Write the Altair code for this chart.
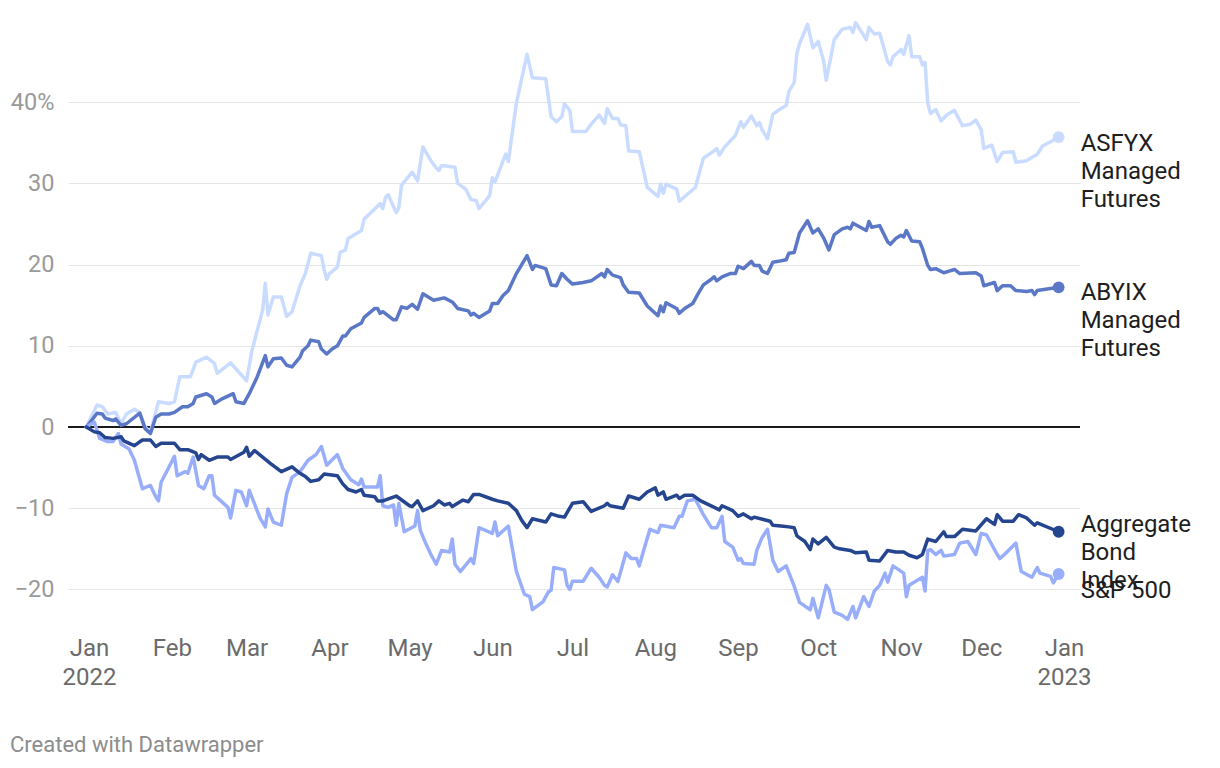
import altair as alt
import pandas as pd

START = pd.Timestamp("2022-01-01")

# (day offset from 1 Jan 2022, cumulative return %)
asfyx = [(-1,0),(3,2.7),(5,2.5),(7,1.6),(10,1.8),(12,0.4),(14,1.6),(17,2.2),(19,1.8),(21,0),(23,-0.6),
         (26,3.1),(30,2.9),(32,3.1),(34,6.2),(38,6.2),(40,8.0),(44,8.6),(47,7.8),(48,6.6),(53,7.9),(59,5.7),
         (61,9.4),(65,14.4),(66,17.7),(67,13.8),(69,16.0),(72,16.0),(74,13.6),(76,14.2),(79,17.4),(81,18.9),
         (83,21.4),(87,21.1),(88,19.4),(89,18.2),(90,18.9),(93,19.7),(94,21.5),(96,21.8),(97,23.2),(102,24.2),
         (103,25.6),(109,27.5),(110,26.9),(111,28.3),(112,28.6),(115,26.4),(116,27.0),(117,29.8),(121,31.4),
         (123,30.3),(125,34.5),(128,32.8),(130,31.9),(131,31.6),(132,32.2),(137,32.0),(138,30.0),(141,29.3),
         (143,28.0),(145,27.9),(146,26.9),(150,28.5),(151,30.7),(152,30.2),(154,31.9),(156,33.6),(157,32.7),
         (160,39.9),(164,45.9),(166,43.0),(171,42.9),(173,38.2),(175,37.6),(177,38.2),(178,39.8),(180,39.0),
         (181,36.4),(186,36.4),(188,37.3),(191,38.4),(193,37.4),(194,39.2),(196,38.0),(198,38.0),(199,37.2),
         (201,37.1),(202,34.0),(206,33.9),(209,29.5),(213,28.4),(214,29.9),(215,28.8),(216,29.9),(220,29.3),
         (221,27.8),(227,29.5),(230,33.1),(234,34.0),(235,34.3),(236,33.5),(238,34.5),(242,35.9),(244,37.6),
         (245,36.9),(248,38.3),(250,37.1),(251,37.5),(252,36.6),(254,35.5),(256,38.5),(258,39.0),(261,39.6),
         (262,41.3),(264,42.4),(265,46.0),(266,47.2),(269,49.6),(271,46.7),(273,47.5),(275,45.1),(276,42.7),
         (279,47.7),(282,49.0),(285,49.2),(286,48.6),(287,49.8),(291,47.7),(292,49.2),(294,48.4),(296,48.5),
         (299,45.0),(300,44.6),(301,45.6),(304,46.5),(305,45.9),(307,48.2),(308,45.6),(311,45.6),(312,44.6),
         (313,44.9),(314,39.9),(315,38.6),(317,39.1),(319,37.7),(321,38.4),(324,39.0),(327,37.1),(330,37.3),
         (332,37.8),(334,36.6),(335,34.3),(338,34.7),(340,32.7),(342,33.8),(346,33.9),(347,32.6),(351,32.8),
         (352,33.0),(355,33.6),(357,34.6),(362,35.5),(363,35.7)]

abyix = [(-1,0),(0,0.4),(3,1.7),(5,1.6),(6,1.1),(9,0.8),(10,1.0),(12,0.2),(14,0.4),(19,1.7),(21,-0.2),
         (23,-0.8),(25,1.2),(27,1.6),(30,1.6),(32,1.8),(35,2.5),(37,2.5),(39,2.9),(40,3.7),(44,4.1),(46,3.7),
         (47,2.9),(50,3.5),(54,4.1),(55,3.1),(58,2.9),(60,4.1),(63,6.2),(66,8.8),(67,7.4),(69,8.4),(72,8.5),
         (74,7.6),(76,7.4),(79,8.6),(80,9.4),(82,10.0),(83,10.7),(86,10.5),(87,9.6),(89,9.0),(91,9.6),(93,10.0),
         (95,11.2),(96,11.2),(98,12.1),(102,12.8),(103,13.5),(107,14.6),(108,14.6),(109,14.0),(110,14.2),
         (114,13.2),(115,13.2),(117,14.8),(119,14.6),(121,15.1),(123,14.5),(125,16.4),(129,15.6),(133,15.9),
         (136,15.4),(138,14.6),(142,14.3),(143,13.8),(144,14.0),(146,13.5),(150,14.3),(151,15.2),(153,15.2),
         (155,16.2),(157,16.8),(160,18.9),(164,21.1),(166,19.4),(167,19.9),(171,19.5),(173,17.5),(175,17.4),
         (177,18.9),(179,18.2),(181,17.6),(185,17.8),(188,18.0),(192,18.9),(193,18.5),(194,19.4),(196,18.7),
         (199,18.4),(200,17.5),(202,16.6),(206,16.5),(209,14.9),(213,13.7),(214,14.9),(215,14.2),(216,15.3),
         (220,14.6),(221,14.0),(223,14.6),(226,15.2),(228,16.4),(230,17.5),(233,18.2),(234,18.5),(235,18.0),
         (237,18.5),(240,18.9),(242,18.9),(243,19.8),(245,19.5),(248,20.4),(249,19.9),(251,19.9),(252,19.2),
         (254,18.9),(256,20.3),(258,20.4),(261,20.6),(262,21.4),(264,21.5),(266,23.9),(269,25.4),(271,23.9),
         (273,24.4),(275,23.3),(277,21.8),(279,23.7),(282,24.4),(284,24.6),(285,24.4),(286,25.1),(291,24.2),
         (292,25.3),(293,24.6),(296,24.8),(299,22.8),(300,22.5),(302,23.2),(304,23.6),(305,23.4),(306,24.2),
         (308,22.9),(311,22.8),(312,22.0),(314,19.9),(315,19.4),(317,19.5),(320,19.0),(322,19.2),(324,19.4),
         (326,18.9),(332,19.0),(334,18.6),(335,17.4),(339,17.8),(340,16.8),(342,17.4),(345,17.4),(347,16.8),
         (351,16.7),(353,16.8),(354,16.3),(355,16.8),(363,17.2)]

agg = [(-1,0),(2,-0.6),(4,-0.7),(6,-1.3),(9,-1.4),(12,-1.2),(13,-1.7),(17,-2.3),(20,-1.6),(23,-1.6),
       (25,-2.4),(27,-2.0),(32,-2.0),(34,-2.8),(37,-2.8),(40,-3.2),(41,-4.0),(42,-3.4),(45,-4.1),(48,-3.7),
       (52,-3.7),(53,-4.0),(58,-3.1),(59,-2.5),(60,-3.6),(62,-2.9),(65,-3.7),(68,-4.5),(72,-5.5),(76,-4.9),
       (79,-5.7),(81,-6.1),(83,-6.7),(86,-6.5),(88,-5.8),(93,-6.0),(95,-7.0),(97,-7.7),(100,-8.0),(102,-7.7),
       (103,-8.4),(107,-8.6),(108,-9.1),(110,-9.1),(115,-8.5),(120,-9.7),(121,-9.8),(123,-9.1),(125,-10.3),
       (129,-9.7),(131,-9.1),(133,-9.6),(135,-9.4),(136,-9.8),(140,-9.0),(142,-9.2),(144,-8.3),(146,-8.3),
       (151,-8.9),(153,-9.1),(157,-9.4),(160,-10.3),(162,-11.5),(164,-12.4),(166,-11.3),(171,-11.7),
       (173,-10.7),(176,-11.0),(178,-11.1),(181,-9.4),(185,-9.2),(188,-10.4),(193,-9.7),(194,-9.4),(195,-9.7),
       (200,-10.0),(202,-8.5),(206,-8.9),(209,-8.0),(212,-7.5),(213,-8.4),(215,-8.0),(216,-8.9),(220,-8.4),
       (221,-8.8),(223,-8.4),(226,-8.4),(229,-9.1),(236,-10.2),(237,-9.7),(241,-10.3),(243,-11.0),(245,-10.7),
       (248,-11.3),(249,-11.1),(255,-11.6),(256,-12.1),(259,-12.2),(262,-12.3),(264,-12.4),(265,-13.4),
       (268,-14.1),(270,-15.1),(271,-13.8),(273,-14.4),(276,-13.6),(279,-14.8),(281,-15.0),(285,-15.2),
       (287,-15.5),(291,-15.4),(292,-16.4),(296,-16.5),(299,-15.2),(302,-15.4),(305,-15.4),(307,-15.8),
       (310,-16.1),(312,-15.7),(314,-13.8),(317,-14.1),(320,-12.9),(321,-13.5),(324,-13.5),(327,-12.6),
       (332,-12.8),(336,-11.3),(339,-12.0),(340,-10.8),(342,-11.6),(346,-11.6),(348,-10.8),(351,-11.2),
       (354,-12.1),(355,-11.8),(363,-12.9)]

spx = [(-1,0),(2,0.6),(4,-1.4),(7,-1.8),(9,-1.8),(11,-0.8),(12,-2.1),(15,-2.7),(17,-4.1),(20,-7.6),
       (23,-7.2),(25,-8.6),(26,-9.1),(27,-6.8),(30,-4.9),(32,-3.6),(33,-6.0),(36,-5.5),(37,-5.7),(39,-3.7),
       (41,-7.2),(43,-7.6),(45,-6.0),(46,-6.0),(47,-8.4),(52,-9.9),(53,-11.2),(55,-7.8),(57,-8.0),(59,-9.7),
       (60,-7.8),(64,-11.2),(66,-12.3),(67,-10.1),(69,-11.7),(72,-12.1),(74,-8.2),(76,-6.2),(79,-5.5),
       (82,-4.1),(85,-3.4),(87,-2.4),(89,-4.7),(93,-3.4),(95,-5.1),(98,-6.5),(101,-7.1),(102,-6.4),(103,-7.4),
       (108,-7.4),(109,-6.0),(110,-9.7),(112,-9.9),(114,-9.6),(115,-12.1),(116,-9.4),(118,-12.9),(122,-12.2),
       (123,-10.3),(124,-12.7),(126,-14.3),(128,-15.7),(130,-16.9),(132,-15.2),(135,-15.4),(136,-13.8),
       (137,-16.9),(139,-17.8),(143,-16.2),(144,-16.8),(146,-12.4),(151,-13.1),(152,-11.7),(153,-13.4),
       (157,-12.2),(160,-17.8),(163,-20.6),(165,-20.9),(166,-22.5),(170,-21.5),(172,-20.3),(173,-20.1),
       (174,-17.3),(178,-17.6),(179,-19.5),(180,-20.0),(181,-19.0),(185,-19.0),(188,-17.4),(191,-18.5),
       (193,-19.5),(194,-19.7),(196,-18.2),(198,-19.0),(200,-16.7),(201,-15.5),(203,-16.2),(205,-16.2),
       (206,-17.1),(208,-14.8),(210,-12.6),(213,-13.0),(214,-12.1),(219,-12.4),(221,-11.0),(222,-11.0),
       (224,-9.1),(227,-8.9),(230,-10.8),(233,-12.4),(235,-12.4),(237,-11.0),(238,-14.1),(241,-14.8),
       (243,-16.4),(244,-16.2),(245,-16.8),(249,-16.9),(250,-15.2),(252,-13.6),(254,-12.6),(256,-16.4),
       (258,-17.8),(261,-17.1),(264,-19.6),(266,-21.6),(270,-22.5),(271,-21.1),(273,-23.5),(276,-19.5),
       (277,-20.0),(279,-22.8),(282,-23.2),(284,-23.7),(286,-22.1),(287,-23.5),(290,-20.9),(292,-22.1),
       (294,-20.2),(296,-19.5),(298,-18.0),(299,-19.1),(301,-17.1),(305,-18.0),(306,-20.9),(307,-19.5),
       (312,-18.5),(313,-20.2),(314,-15.2),(315,-15.1),(317,-15.7),(319,-15.2),(320,-15.9),(324,-15.7),
       (326,-14.3),(329,-14.1),(332,-15.7),(334,-13.1),(336,-13.3),(340,-15.7),(341,-16.2),(343,-15.6),
       (347,-14.3),(349,-17.8),(353,-18.5),(355,-17.3),(356,-18.0),(360,-18.4),(361,-19.2),(363,-18.1)]

series_data = [asfyx, abyix, spx, agg]
series_names = ["ASFYX Managed Futures", "ABYIX Managed Futures", "S&P 500", "Aggregate Bond Index"]
series_labels = ["ASFYX\nManaged\nFutures", "ABYIX\nManaged\nFutures", "S&P 500", "Aggregate\nBond\nIndex"]
series_colors = ["#c9dcff", "#5b78c6", "#98aefb", "#26458f"]
label_dy = [14, 13, 24, 0]

y_ticks = [-20, -10, 0, 10, 20, 30, 40]
month_ticks = [(2022, m) for m in range(1, 13)] + [(2023, 1)]

FONT = "Roboto"


def frame(pairs, name, label):
    days = [p[0] for p in pairs]
    vals = [p[1] for p in pairs]
    dates = (START + pd.to_timedelta(days, unit="D")).strftime("%Y-%m-%d")
    return pd.DataFrame({"date": list(dates), "value": vals, "series": name, "label": label})


x_scale = alt.Scale(
    type="utc",
    domain=[alt.DateTime(year=2021, month=12, date=24, hours=3, minutes=22, utc=True),
            alt.DateTime(year=2023, month=1, date=7, utc=True)],
)
y_scale = alt.Scale(domain=[-25, 50], nice=False, zero=False)

x_axis = alt.Axis(
    values=[alt.DateTime(year=y, month=m, date=1, utc=True) for y, m in month_ticks],
    labelExpr="utcmonth(datum.value) == 0 ? [utcFormat(datum.value, '%b'), utcFormat(datum.value, '%Y')] : utcFormat(datum.value, '%b')",
    domain=False, ticks=False, grid=False,
    labelFont=FONT, labelFontSize=24, labelColor="#6b6b6b",
    labelPadding=6, labelLineHeight=29.5, labelOverlap=False, labelFlush=False, labelBound=False,
    title=None,
)
y_axis = alt.Axis(
    values=y_ticks,
    labelExpr="datum.value == 40 ? '40%' : (datum.value < 0 ? '\u2212' + abs(datum.value) : '' + datum.value)",
    grid=True, gridColor="#e5e5e5", gridWidth=1,
    domain=False, ticks=False,
    labelFont=FONT, labelFontSize=23.5, labelColor="#9a9a9a", labelPadding=14,
    title=None,
)

X = alt.X("date:T", scale=x_scale, axis=x_axis, title=None)
Y = alt.Y("value:Q", scale=y_scale, axis=y_axis, title=None)

frames = [frame(d, n, l) for d, n, l in zip(series_data, series_names, series_labels)]

zero_rule = alt.Chart(pd.DataFrame({"value": [0]})).mark_rule(
    color="#1a1a1a", strokeWidth=2
).encode(y=Y)

lines = [
    alt.Chart(f).mark_line(color=c, strokeWidth=3.5, strokeJoin="round", strokeCap="round").encode(x=X, y=Y)
    for f, c in zip(frames, series_colors)
]
dots = [
    alt.Chart(f.tail(1)).mark_circle(color=c, size=140, opacity=1).encode(x=X, y=Y)
    for f, c in zip(frames, series_colors)
]
labels = [
    alt.Chart(f.tail(1)).mark_text(
        align="left", baseline="alphabetic", dx=22, dy=dy, font=FONT, fontSize=24,
        color="#1e1e1e", lineBreak="\n", lineHeight=28,
    ).encode(x=X, y=Y, text="label:N")
    for f, dy in zip(frames, label_dy)
]

footer = alt.Chart(pd.DataFrame({"t": ["Created with Datawrapper"]})).mark_text(
    align="left", baseline="middle", font=FONT, fontSize=22, color="#8c8c8c"
).encode(x=alt.value(-58), y=alt.value(724), text="t:N")

chart = alt.layer(zero_rule, *lines, *dots, *labels, footer).properties(
    width=1012,
    height=609,
    autosize=alt.AutoSizeParams(type="none"),
    padding={"left": 60, "top": 13, "right": 130, "bottom": 132},
).configure_view(stroke=None)

chart.save("out.html", embed_options={"renderer": "svg", "actions": False})
